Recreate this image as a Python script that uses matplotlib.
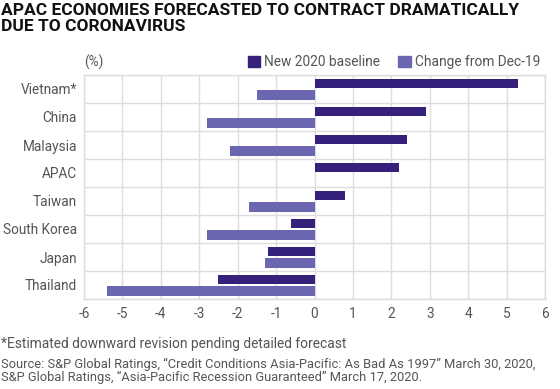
import numpy as np
import matplotlib.pyplot as plt
from matplotlib.patches import Patch

plt.rcParams['font.family'] = ['Roboto', 'DejaVu Sans']
plt.rcParams['axes.unicode_minus'] = False

# data (%)
countries = ['Vietnam*', 'China', 'Malaysia', 'APAC', 'Taiwan', 'South Korea', 'Japan', 'Thailand']
baseline = [5.3, 2.9, 2.4, 2.2, 0.8, -0.6, -1.2, -2.5]
change = [-1.5, -2.8, -2.2, 0.0, -1.7, -2.8, -1.3, -5.4]
xticks = [-6, -5, -4, -3, -2, -1, 0, 1, 2, 3, 4, 5, 6]

DARK = '#35217b'
LIGHT = '#6b66b0'
GRID = '#dddddd'
TXT = '#555555'

fig = plt.figure(figsize=(5.6, 3.89), dpi=100)
ax = fig.add_axes([84/560, 1 - 299/389, (545-84)/560, (299-75)/389])

y = np.arange(len(countries))
h = 0.34
ax.barh(y - h/2 - 0.035, baseline, height=h, color=DARK, zorder=3)
ax.barh(y + h/2 + 0.035, change, height=h, color=LIGHT, zorder=3)

ax.set_ylim(len(countries) - 0.5, -0.5)
ax.set_xlim(-6, 6)
ax.set_xticks(xticks)
ax.set_yticks(y)
ax.set_yticklabels(countries)
ax.set_yticks(np.arange(-0.5, len(countries), 1), minor=True)

ax.grid(axis='x', which='major', color=GRID, lw=1, zorder=0)
ax.grid(axis='y', which='minor', color=GRID, lw=1, zorder=0)
ax.tick_params(axis='both', which='both', length=0, colors=TXT, labelsize=9.8)
ax.tick_params(axis='x', pad=6)
ax.tick_params(axis='y', pad=5)
for s in ax.spines.values():
    s.set_color(GRID)
    s.set_linewidth(1)

fig.text(1/560, 1 - 3/389, 'APAC ECONOMIES FORECASTED TO CONTRACT DRAMATICALLY\nDUE TO CORONAVIRUS',
         fontsize=12.5, fontweight='bold', color='#111111', va='top', linespacing=1.05)
fig.text(84/560, 1 - 62/389, '(%)', fontsize=9.8, color=TXT, va='center')

handles = [Patch(color=DARK, label='New 2020 baseline'), Patch(color=LIGHT, label='Change from Dec-19')]
fig.legend(handles=handles, loc='center right', bbox_to_anchor=(547/560, 1 - 62/389), ncol=2,
           frameon=False, fontsize=9.9, handlelength=0.9, handleheight=0.9, handletextpad=0.3,
           columnspacing=1.3, labelcolor=TXT, borderpad=0)

fig.text(1/560, 1 - 344/389, '*Estimated downward revision pending detailed forecast',
         fontsize=9.9, color=TXT, va='center')
fig.text(1/560, 1 - 371/389,
         'Source: S&P Global Ratings, \u201cCredit Conditions Asia-Pacific: As Bad As 1997\u201d March 30, 2020,\n'
         'S&P Global Ratings, \u201cAsia-Pacific Recession Guaranteed\u201d March 17, 2020.',
         fontsize=9.3, color=TXT, va='center', linespacing=0.93)

fig.savefig('out.png', dpi=100)
